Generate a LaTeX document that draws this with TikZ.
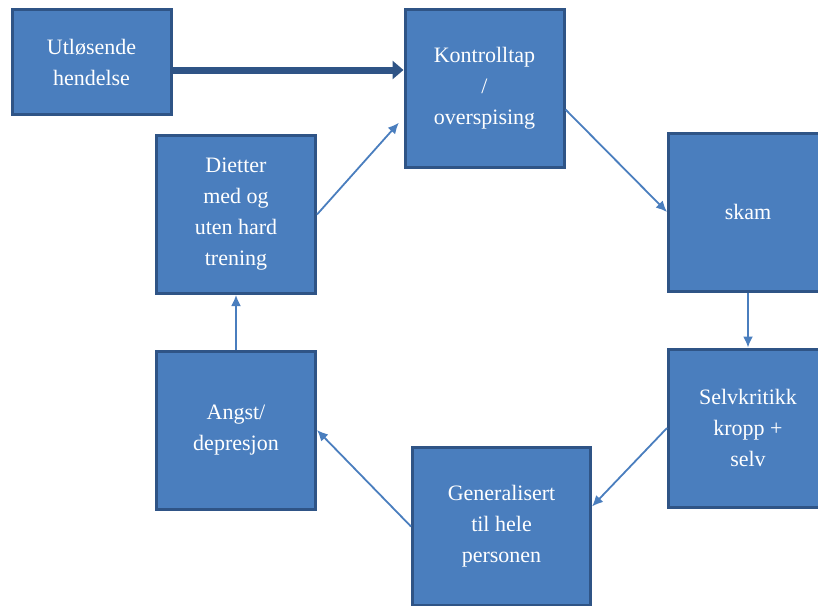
\documentclass[tikz,border=0pt]{standalone}
\usepackage{fontspec}
\setmainfont{Liberation Serif}
\usetikzlibrary{arrows.meta,positioning}
\definecolor{boxfill}{RGB}{74,126,190}
\definecolor{boxline}{RGB}{47,84,134}
\definecolor{thinline}{RGB}{74,126,190}

\begin{document}
\begin{tikzpicture}[x=1pt, y=-1pt, transform shape, auto]
    \useasboundingbox (0,0) rectangle (818,605);
    % Draw the blue boxes
    \tikzstyle{stepbox} = [rectangle, minimum width = 159pt, minimum height = 158pt, text centered, align = center, draw = boxline, line width = 3pt, fill = boxfill, text = white, font = \fontsize{22}{31}\selectfont]
    \tikzstyle{arrow}    = [thinline, line width = 1.8pt, -{Latex[length=11pt, width=10pt]}]
    \tikzstyle{bigarrow} = [boxline, line width = 7pt, -{Triangle[length=11pt, width=18pt]}]

    \node[stepbox, minimum height = 105pt] (ut) at (91.5,62) {Utløsende\\hendelse};
    \node[stepbox] (kontroll) at (484.5,88.5) {Kontrolltap\\/\\overspising};
    \node[stepbox] (skam)     at (748,212)    {skam};
    \node[stepbox] (selv)     at (748,428)    {Selvkritikk\\kropp +\\selv};
    \node[stepbox, minimum width = 178pt] (gen) at (501.5,526.5) {Generalisert\\til hele\\personen};
    \node[stepbox] (angst)    at (236,430)    {Angst/\\depresjon};
    \node[stepbox] (diett)    at (236,214.5)  {Dietter\\med og\\uten hard\\trening};

    \draw[bigarrow] ([yshift=-8pt]ut.east) -- ([yshift=-8pt]ut.east -| kontroll.west);
    \draw[arrow, shorten >= 7pt] (diett.east) -- ([yshift=-29pt]kontroll.west);
    \draw[arrow] ([yshift=-21pt]kontroll.east) -- (skam.west);
    \draw[arrow] (skam.south) -- (selv.north);
    \draw[arrow] (selv.west) -- ([yshift=20pt]gen.east);
    \draw[arrow] (gen.west) -- (angst.east);
    \draw[arrow] (angst.north) -- (diett.south);
\end{tikzpicture}
\end{document}
